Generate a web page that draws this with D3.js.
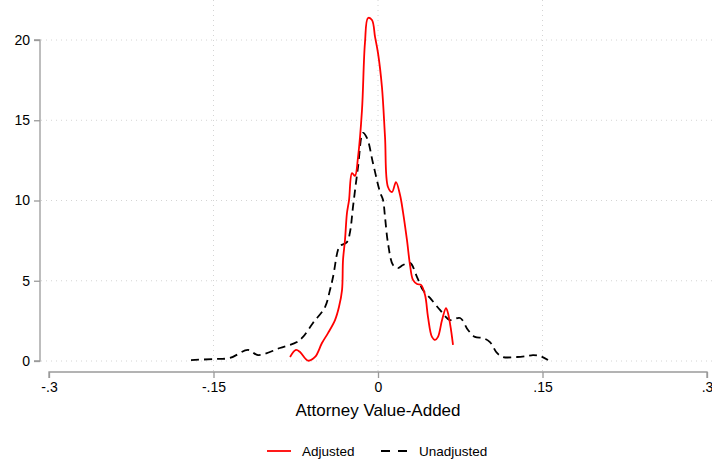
<!DOCTYPE html>
<html>
<head>
<meta charset="utf-8">
<script src="https://cdn.jsdelivr.net/npm/d3@7"></script>
<style>
  body { margin: 0; background: #fff; }
  svg { display: block; font-family: "Liberation Sans", Arial, sans-serif; }
</style>
</head>
<body>
<div id="chart"></div>
<script>
// kernel density
var adjX = [-0.0802, -0.0748, -0.0711, -0.0638, -0.0574, -0.0511, -0.0456, -0.0392, -0.0356, -0.0328,
  -0.0319, -0.0301, -0.0283, -0.0264, -0.0237, -0.0210, -0.0182, -0.0146, -0.0119, -0.0091,
  -0.0055, -0.0027, 0.0000, 0.0036, 0.0064, 0.0091, 0.0128, 0.0164, 0.0201, 0.0228,
  0.0264, 0.0292, 0.0319, 0.0356, 0.0392, 0.0429, 0.0456, 0.0492, 0.0520, 0.0547,
  0.0584, 0.0620, 0.0638, 0.0666, 0.0684];
var adjY = [0.25, 0.69, 0.56, 0.02, 0.25, 1.12, 1.74, 2.55, 3.36, 4.42,
  6.29, 7.54, 9.22, 10.03, 11.71, 11.53, 12.71, 15.64, 19.81, 21.37,
  21.25, 20.19, 19.19, 17.07, 13.96, 10.84, 10.53, 11.15, 10.34, 9.28,
  7.54, 5.98, 5.05, 4.80, 4.74, 4.11, 2.74, 1.50, 1.31, 1.50,
  2.55, 3.30, 2.99, 1.93, 1.00];

var unadjX = [-0.1705, -0.1505, -0.1350, -0.1185, -0.1094, -0.0894, -0.0739, -0.0684, -0.0593, -0.0483,
  -0.0438, -0.0410, -0.0365, -0.0346, -0.0283, -0.0255, -0.0228, -0.0182, -0.0137, -0.0100,
  -0.0046, 0.0018, 0.0046, 0.0064, 0.0091, 0.0137, 0.0182, 0.0228, 0.0292, 0.0356,
  0.0410, 0.0474, 0.0565, 0.0657, 0.0748, 0.0821, 0.0884, 0.0957, 0.1021, 0.1085,
  0.1140, 0.1267, 0.1359, 0.1413, 0.1477, 0.1550];
var unadjY = [0.06, 0.12, 0.19, 0.69, 0.37, 0.81, 1.18, 1.50, 2.37, 3.36,
  4.42, 5.23, 6.92, 7.17, 7.41, 8.04, 9.60, 12.09, 14.21, 13.89,
  12.34, 10.53, 10.03, 8.97, 7.35, 5.98, 5.79, 5.98, 6.11, 5.23,
  4.42, 3.93, 3.18, 2.55, 2.68, 1.93, 1.50, 1.43, 1.18, 0.50,
  0.25, 0.25, 0.31, 0.37, 0.31, 0.06];

var xTicks = [-0.3, -0.15, 0, 0.15, 0.3];
var xTickLabels = ["-.3", "-.15", "0", ".15", ".3"];
var yTicks = [0, 5, 10, 15, 20];
var legendLabels = ["Adjusted", "Unadjusted"];

var W = 712, H = 463;
var x = d3.scaleLinear().domain([-0.3, 0.3]).range([49, 707]);
var y = d3.scaleLinear().domain([0, 20]).range([361, 40]);

var svg = d3.select('#chart').append('svg').attr('width', W).attr('height', H);

// grid
svg.append('g').selectAll('line').data(yTicks).enter().append('line')
  .attr('x1', 41).attr('x2', 712)
  .attr('y1', function (d) { return y(d); }).attr('y2', function (d) { return y(d); })
  .attr('stroke', '#d4d4d4').attr('stroke-width', 1).attr('stroke-dasharray', '1,4');
svg.append('g').selectAll('line').data(xTicks.slice(1, -1)).enter().append('line')
  .attr('x1', function (d) { return x(d); }).attr('x2', function (d) { return x(d); })
  .attr('y1', 0).attr('y2', 371)
  .attr('stroke', '#d4d4d4').attr('stroke-width', 1).attr('stroke-dasharray', '1,4');

// axes
var yAxis = svg.append('g').attr('transform', 'translate(40,0)')
  .call(d3.axisLeft(y).tickValues(yTicks).tickSize(6).tickPadding(4).tickFormat(d3.format('d')));
var xAxis = svg.append('g').attr('transform', 'translate(0,372)')
  .call(d3.axisBottom(x).tickValues(xTicks).tickSize(6).tickPadding(4)
    .tickFormat(function (d, i) { return xTickLabels[i]; }));
[yAxis, xAxis].forEach(function (a) {
  a.selectAll('path').attr('stroke', '#9a9a9a').attr('stroke-width', 1.3);
  a.selectAll('line').attr('stroke', '#9a9a9a').attr('stroke-width', 1.3);
  a.selectAll('text').attr('fill', '#000').style('font-size', '14px')
    .style('font-family', '"Liberation Sans", Arial, sans-serif');
});
xAxis.select('.domain').attr('d', 'M' + x(-0.3) + ',6V0H' + x(0.3) + 'V6');
yAxis.select('.domain').attr('d', 'M-6,' + y(20) + 'H0V' + y(0) + 'H-6');

// curves
var line = d3.line()
  .x(function (d) { return x(d[0]); })
  .y(function (d) { return y(d[1]); })
  .curve(d3.curveCatmullRom.alpha(0.5));

var unadj = unadjX.map(function (v, i) { return [v, unadjY[i]]; });
var adj = adjX.map(function (v, i) { return [v, adjY[i]]; });

svg.append('path').datum(unadj).attr('d', line)
  .attr('fill', 'none').attr('stroke', '#000').attr('stroke-width', 1.8)
  .attr('stroke-dasharray', '8,5');
svg.append('path').datum(adj).attr('d', line)
  .attr('fill', 'none').attr('stroke', '#ff0000').attr('stroke-width', 1.8);

// x title
svg.append('text').attr('x', 378).attr('y', 416).attr('text-anchor', 'middle')
  .style('font-size', '17px').text('Attorney Value-Added');

// legend
var lg = svg.append('g');
lg.append('line').attr('x1', 267).attr('x2', 291).attr('y1', 451).attr('y2', 451)
  .attr('stroke', '#ff0000').attr('stroke-width', 1.8);
lg.append('text').attr('x', 302).attr('y', 456).style('font-size', '13.5px').text(legendLabels[0]);
lg.append('line').attr('x1', 381).attr('x2', 407).attr('y1', 451).attr('y2', 451)
  .attr('stroke', '#000').attr('stroke-width', 1.8).attr('stroke-dasharray', '9,8');
lg.append('text').attr('x', 419).attr('y', 456).style('font-size', '13.5px').text(legendLabels[1]);
</script>
</body>
</html>
